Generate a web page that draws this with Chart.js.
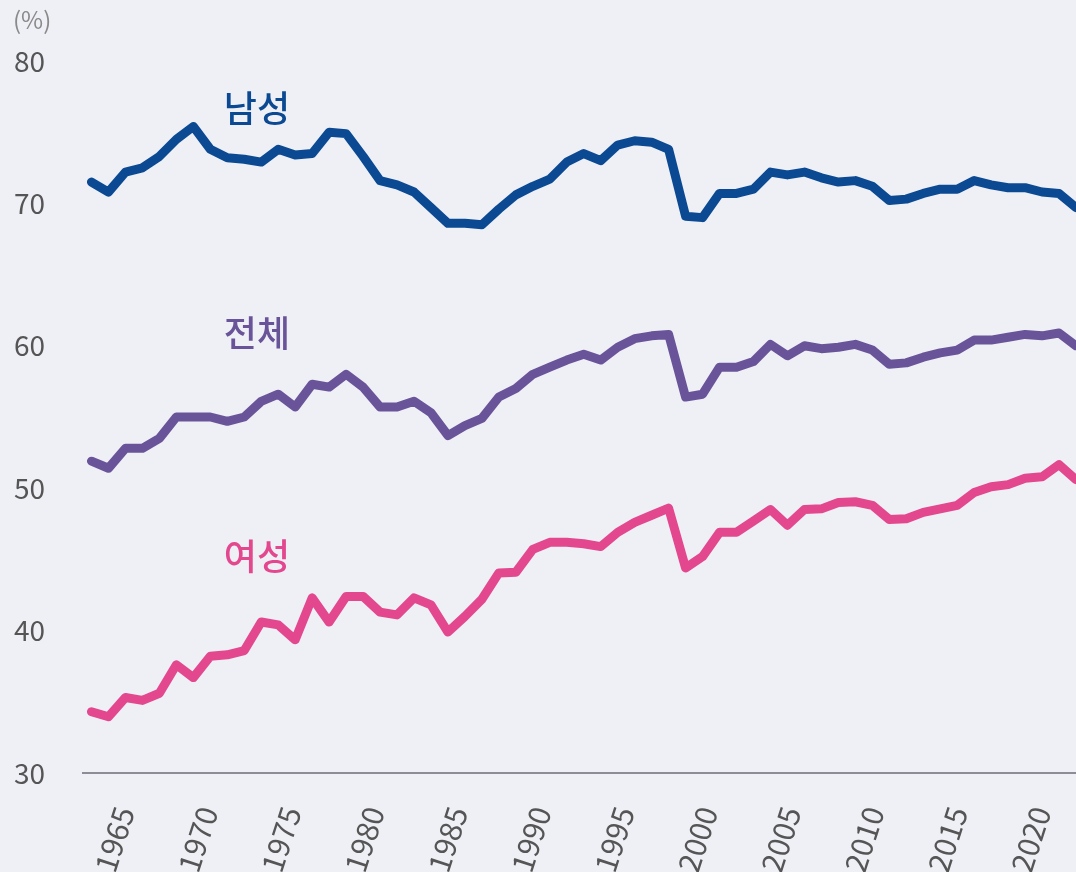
<!DOCTYPE html>
<html>
<head>
<meta charset="utf-8">
<script src="https://cdn.jsdelivr.net/npm/chart.js@4"></script>
<style>
  html, body { margin: 0; padding: 0; background: #eff0f6; }
  canvas { display: block; }
</style>
</head>
<body>
<canvas id="chart" width="1076" height="872"></canvas>
<script>
const years = [1963, 1964, 1965, 1966, 1967, 1968, 1969, 1970, 1971, 1972,
  1973, 1974, 1975, 1976, 1977, 1978, 1979, 1980, 1981, 1982,
  1983, 1984, 1985, 1986, 1987, 1988, 1989, 1990, 1991, 1992,
  1993, 1994, 1995, 1996, 1997, 1998, 1999, 2000, 2001, 2002,
  2003, 2004, 2005, 2006, 2007, 2008, 2009, 2010, 2011, 2012,
  2013, 2014, 2015, 2016, 2017, 2018, 2019, 2020, 2021];

const male = [71.5, 70.8, 72.2, 72.5, 73.3, 74.5, 75.4, 73.8, 73.2, 73.1,
  72.9, 73.8, 73.4, 73.5, 75.0, 74.9, 73.3, 71.6, 71.3, 70.8,
  69.7, 68.6, 68.6, 68.5, 69.6, 70.6, 71.2, 71.7, 72.9, 73.5,
  73.0, 74.1, 74.4, 74.3, 73.8, 69.1, 69.0, 70.7, 70.7, 71.0,
  72.2, 72.0, 72.2, 71.8, 71.5, 71.6, 71.2, 70.2, 70.3, 70.7,
  71.0, 71.0, 71.6, 71.3, 71.1, 71.1, 70.8, 70.7, 69.7];

const total = [51.9, 51.4, 52.8, 52.8, 53.5, 55.0, 55.0, 55.0, 54.7, 55.0,
  56.1, 56.6, 55.7, 57.3, 57.1, 58.0, 57.1, 55.7, 55.7, 56.1,
  55.3, 53.7, 54.4, 54.9, 56.4, 57.0, 58.0, 58.5, 59.0, 59.4,
  59.0, 59.9, 60.5, 60.7, 60.8, 56.4, 56.6, 58.5, 58.5, 58.9,
  60.1, 59.3, 60.0, 59.8, 59.9, 60.1, 59.7, 58.7, 58.8, 59.2,
  59.5, 59.7, 60.4, 60.4, 60.6, 60.8, 60.7, 60.9, 60.0];

const female = [34.3, 33.95, 35.3, 35.1, 35.6, 37.6, 36.7, 38.2, 38.3, 38.6,
  40.6, 40.4, 39.35, 42.3, 40.6, 42.4, 42.4, 41.3, 41.1, 42.3,
  41.8, 39.9, 41.0, 42.2, 44.05, 44.1, 45.7, 46.2, 46.2, 46.1,
  45.9, 46.9, 47.6, 48.1, 48.6, 44.4, 45.2, 46.9, 46.9, 47.7,
  48.5, 47.4, 48.5, 48.55, 49.0, 49.05, 48.8, 47.8, 47.85, 48.3,
  48.55, 48.8, 49.7, 50.1, 50.25, 50.7, 50.8, 51.65, 50.6];

const xTickLabels = [1965, 1970, 1975, 1980, 1985, 1990, 1995, 2000, 2005, 2010, 2015, 2020];
const yTickLabels = [30, 40, 50, 60, 70, 80];

const seriesNames = ['남성', '전체', '여성'];
const seriesColors = ['#0b4a92', '#6a5499', '#e3488f'];

// where each series name sits, in data units
const nameYear = [1972.75, 1972.75, 1972.75];
const nameValue = [76.7, 60.85, 45.2];

const FONT = '"Noto Sans CJK KR", "Noto Sans", sans-serif';

const toPoints = vals => vals.map((v, i) => ({ x: years[i], y: v }));

const annotations = {
    id: 'annotations',
    beforeDraw(chart) {
        const ctx = chart.ctx;
        ctx.save();
        ctx.fillStyle = '#eff0f6';
        ctx.fillRect(0, 0, chart.width, chart.height);
        ctx.restore();
    },
    afterDraw(chart) {
        const ctx = chart.ctx;
        const xs = chart.scales.x;
        const ys = chart.scales.y;
        ctx.save();
        ctx.font = '500 36px ' + FONT;
        ctx.textAlign = 'center';
        ctx.textBaseline = 'middle';
        seriesNames.forEach((name, i) => {
            ctx.fillStyle = seriesColors[i];
            ctx.fillText(name, xs.getPixelForValue(nameYear[i]), ys.getPixelForValue(nameValue[i]));
        });
        ctx.font = '24px ' + FONT;
        ctx.fillStyle = '#8a8a8a';
        ctx.textAlign = 'left';
        ctx.fillText('(%)', ys.left - 1, ys.top - 41);
        ctx.restore();
    }
};

const datasets = [male, total, female].map((vals, i) => ({
    label: seriesNames[i],
    data: toPoints(vals),
    borderColor: seriesColors[i],
    borderWidth: 9,
    borderJoinStyle: 'round',
    borderCapStyle: 'round',
    pointRadius: 0,
    tension: 0,
    xAxisID: 'x',
    yAxisID: 'y'
}));

new Chart(document.getElementById('chart'), {
    type: 'line',
    data: { datasets: datasets },
    options: {
        responsive: false,
        animation: false,
        layout: { padding: { top: 61, left: 14, right: 0, bottom: 0 } },
        plugins: {
            legend: { display: false },
            tooltip: { enabled: false }
        },
        scales: {
            x: {
                type: 'linear',
                display: false,
                min: 1962.5,
                max: 2021
            },
            xl: {
                type: 'linear',
                position: 'bottom',
                min: 1962.5,
                max: 2022.1,
                grid: { display: false, drawTicks: false },
                border: { display: true, color: '#8d8d97', width: 2 },
                afterBuildTicks: scale => {
                    scale.ticks = xTickLabels.map(v => ({ value: v }));
                },
                afterFit: scale => {
                    scale.height = 99;
                    scale.paddingLeft = 0;
                    scale.paddingRight = 0;
                },
                ticks: {
                    autoSkip: false,
                    minRotation: 72,
                    maxRotation: 72,
                    padding: 29,
                    color: '#555555',
                    font: { family: FONT, size: 30 },
                    callback: v => String(v)
                }
            },
            y: {
                type: 'linear',
                min: 30,
                max: 80,
                grid: { display: false, drawTicks: false },
                border: { display: false },
                afterBuildTicks: scale => {
                    scale.ticks = yTickLabels.map(v => ({ value: v }));
                },
                afterFit: scale => {
                    scale.width = 69;
                    scale.paddingTop = 0;
                    scale.paddingBottom = 0;
                },
                ticks: {
                    crossAlign: 'far',
                    padding: 0,
                    color: '#555555',
                    font: { family: FONT, size: 28 }
                }
            }
        }
    },
    plugins: [annotations]
});
</script>
</body>
</html>
